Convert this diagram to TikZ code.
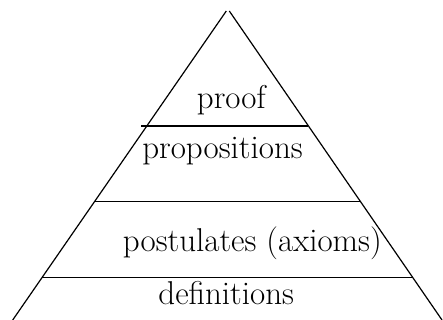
\documentclass[tikz,border=0pt]{standalone}
\tikzset{
  edge/.style={line width=1.2pt, black},
  lbl/.style={anchor=base, inner sep=0pt, font=\fontsize{33}{35}\selectfont}
}
\begin{document}
\begin{tikzpicture}[x=1pt,y=-1pt]
\useasboundingbox (0,0) rectangle (443,320);
% triangle sides
\coordinate (apL) at (226.3,11);
\coordinate (apR) at (229.3,11);
\coordinate (bL) at (12.7,320);
\coordinate (bR) at (442,320);
\draw[edge] (apL) -- (bL);
\draw[edge] (apR) -- (bR);
% horizontal layers
\coordinate (h1a) at (141,126);
\coordinate (h1b) at (308,126);
\coordinate (h2a) at (94.5,201.7);
\coordinate (h2b) at (360.3,201.7);
\coordinate (h3a) at (42,277.3);
\coordinate (h3b) at (412.6,277.3);
\draw[edge] (h1a) -- (h1b);
\draw[edge] (h2a) -- (h2b);
\draw[edge] (h3a) -- (h3b);
% labels
\node[lbl] (proof) at (231.3,109) {proof};
\node[lbl] (prop) at (222.5,158.7) {propositions};
\node[lbl] (post) at (252.3,251) {postulates (axioms)};
\node[lbl] (defs) at (226.2,304.7) {definitions};
\end{tikzpicture}
\end{document}
